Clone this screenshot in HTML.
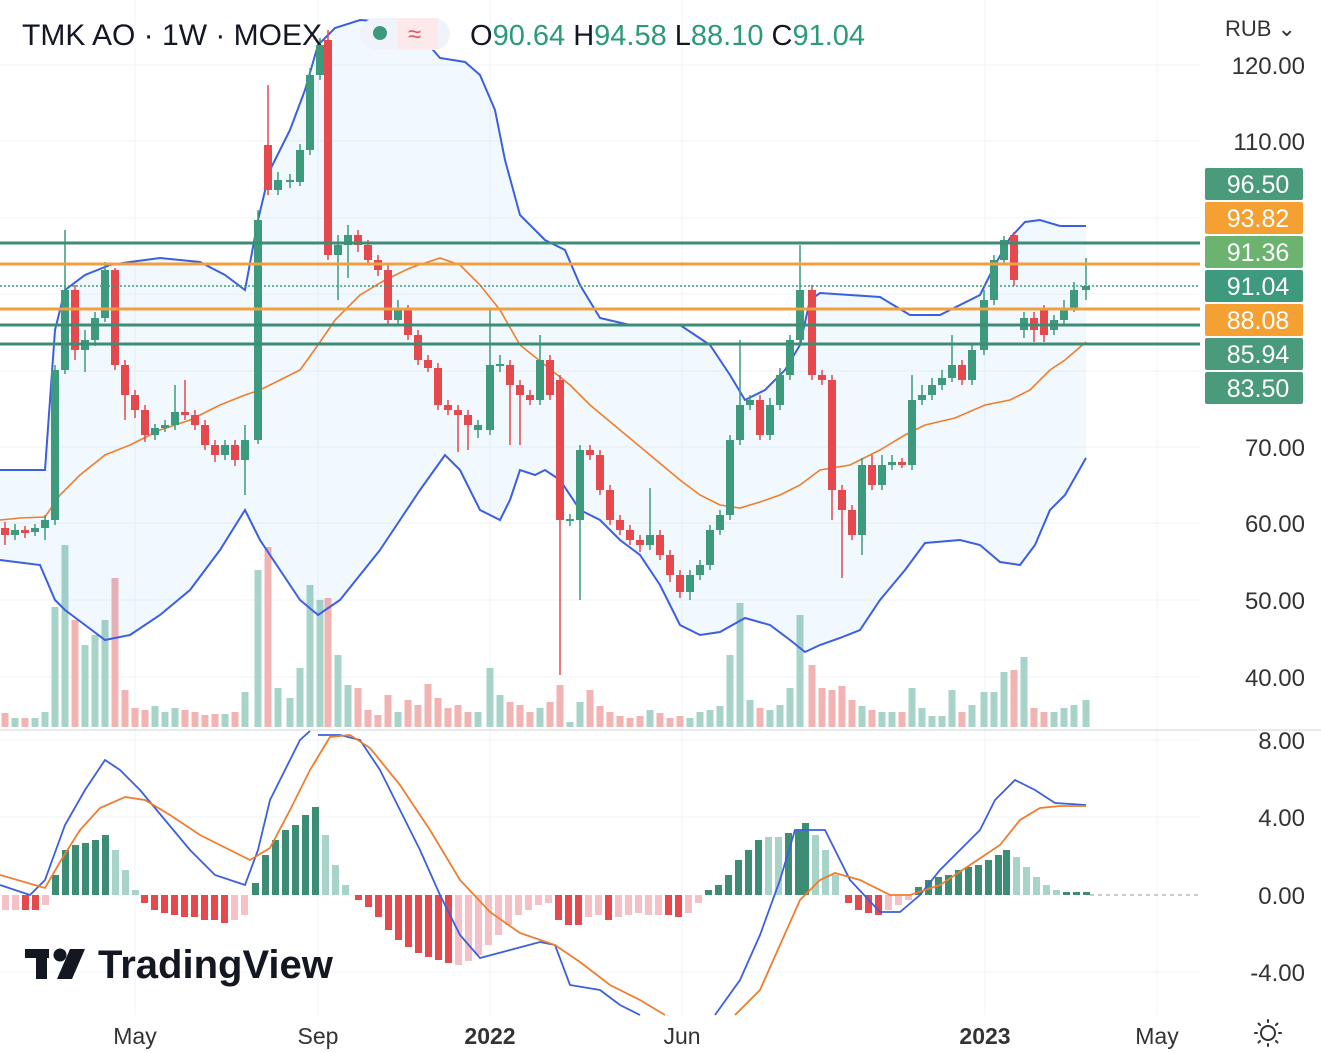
<!DOCTYPE html>
<html><head><meta charset="utf-8">
<style>
html,body{margin:0;padding:0;background:#fff;}
body{width:1321px;height:1053px;overflow:hidden;font-family:"Liberation Sans",sans-serif;}
svg{display:block}
</style></head>
<body>
<svg width="1321" height="1053" xmlns="http://www.w3.org/2000/svg" font-family="Liberation Sans, sans-serif">
<rect width="1321" height="1053" fill="#fff"/>
<g stroke="#f0f3fa" stroke-width="1">
<line x1="135" y1="0" x2="135" y2="1015"/><line x1="318" y1="0" x2="318" y2="1015"/>
<line x1="490" y1="0" x2="490" y2="1015"/><line x1="682" y1="0" x2="682" y2="1015"/>
<line x1="985" y1="0" x2="985" y2="1015"/><line x1="1157" y1="0" x2="1157" y2="1015"/>
<line x1="0" y1="65" x2="1200" y2="65"/><line x1="0" y1="141" x2="1200" y2="141"/>
<line x1="0" y1="218" x2="1200" y2="218"/><line x1="0" y1="294" x2="1200" y2="294"/>
<line x1="0" y1="371" x2="1200" y2="371"/><line x1="0" y1="447" x2="1200" y2="447"/>
<line x1="0" y1="523" x2="1200" y2="523"/><line x1="0" y1="600" x2="1200" y2="600"/>
<line x1="0" y1="677" x2="1200" y2="677"/>
<line x1="0" y1="740" x2="1200" y2="740"/><line x1="0" y1="817" x2="1200" y2="817"/>
<line x1="0" y1="972" x2="1200" y2="972"/>
</g>

<!-- volume -->
<g>
<g fill="#f2b3b3">
<rect x="1.5" y="713" width="7" height="14"/><rect x="21.5" y="718" width="7" height="9"/><rect x="71.5" y="620" width="7" height="107"/><rect x="111.5" y="578" width="7" height="149"/><rect x="121.5" y="690" width="7" height="37"/><rect x="131.5" y="708" width="7" height="19"/><rect x="141.5" y="710" width="7" height="17"/><rect x="181.5" y="710" width="7" height="17"/><rect x="191.5" y="712" width="7" height="15"/><rect x="201.5" y="715" width="7" height="12"/><rect x="211.5" y="714" width="7" height="13"/><rect x="231.5" y="712" width="7" height="15"/><rect x="264.5" y="547" width="7" height="180"/><rect x="324.5" y="598" width="7" height="129"/><rect x="354.5" y="688" width="7" height="39"/><rect x="364.5" y="710" width="7" height="17"/><rect x="374.5" y="715" width="7" height="12"/><rect x="384.5" y="695" width="7" height="32"/><rect x="404.5" y="700" width="7" height="27"/><rect x="414.5" y="705" width="7" height="22"/><rect x="424.5" y="684" width="7" height="43"/><rect x="434.5" y="698" width="7" height="29"/><rect x="444.5" y="708" width="7" height="19"/><rect x="454.5" y="705" width="7" height="22"/><rect x="464.5" y="712" width="7" height="15"/><rect x="506.5" y="702" width="7" height="25"/><rect x="516.5" y="705" width="7" height="22"/><rect x="526.5" y="712" width="7" height="15"/><rect x="546.5" y="702" width="7" height="25"/><rect x="556.5" y="685" width="7" height="42"/><rect x="586.5" y="690" width="7" height="37"/><rect x="596.5" y="706" width="7" height="21"/><rect x="606.5" y="712" width="7" height="15"/><rect x="616.5" y="716" width="7" height="11"/><rect x="626.5" y="718" width="7" height="9"/><rect x="636.5" y="716" width="7" height="11"/><rect x="656.5" y="713" width="7" height="14"/><rect x="666.5" y="718" width="7" height="9"/><rect x="676.5" y="716" width="7" height="11"/><rect x="756.5" y="708" width="7" height="19"/><rect x="808.5" y="665" width="7" height="62"/><rect x="818.5" y="688" width="7" height="39"/><rect x="828.5" y="690" width="7" height="37"/><rect x="838.5" y="686" width="7" height="41"/><rect x="848.5" y="700" width="7" height="27"/><rect x="868.5" y="710" width="7" height="17"/><rect x="898.5" y="712" width="7" height="15"/><rect x="958.5" y="712" width="7" height="15"/><rect x="1010.5" y="670" width="7" height="57"/><rect x="1030.5" y="708" width="7" height="19"/><rect x="1040.5" y="712" width="7" height="15"/>
</g>
<g fill="#a8d3c8">
<rect x="11.5" y="718" width="7" height="9"/><rect x="31.5" y="718" width="7" height="9"/><rect x="41.5" y="712" width="7" height="15"/><rect x="51.5" y="607" width="7" height="120"/><rect x="61.5" y="545" width="7" height="182"/><rect x="81.5" y="645" width="7" height="82"/><rect x="91.5" y="635" width="7" height="92"/><rect x="101.5" y="620" width="7" height="107"/><rect x="151.5" y="706" width="7" height="21"/><rect x="161.5" y="712" width="7" height="15"/><rect x="171.5" y="708" width="7" height="19"/><rect x="221.5" y="714" width="7" height="13"/><rect x="241.5" y="692" width="7" height="35"/><rect x="254.5" y="570" width="7" height="157"/><rect x="274.5" y="688" width="7" height="39"/><rect x="286.5" y="698" width="7" height="29"/><rect x="296.5" y="668" width="7" height="59"/><rect x="306.5" y="585" width="7" height="142"/><rect x="316.5" y="600" width="7" height="127"/><rect x="334.5" y="655" width="7" height="72"/><rect x="344.5" y="685" width="7" height="42"/><rect x="394.5" y="712" width="7" height="15"/><rect x="474.5" y="712" width="7" height="15"/><rect x="486.5" y="668" width="7" height="59"/><rect x="496.5" y="695" width="7" height="32"/><rect x="536.5" y="708" width="7" height="19"/><rect x="566.5" y="722" width="7" height="5"/><rect x="576.5" y="702" width="7" height="25"/><rect x="646.5" y="710" width="7" height="17"/><rect x="686.5" y="718" width="7" height="9"/><rect x="696.5" y="712" width="7" height="15"/><rect x="706.5" y="710" width="7" height="17"/><rect x="716.5" y="706" width="7" height="21"/><rect x="726.5" y="655" width="7" height="72"/><rect x="736.5" y="603" width="7" height="124"/><rect x="746.5" y="700" width="7" height="27"/><rect x="766.5" y="710" width="7" height="17"/><rect x="776.5" y="705" width="7" height="22"/><rect x="786.5" y="688" width="7" height="39"/><rect x="796.5" y="615" width="7" height="112"/><rect x="858.5" y="706" width="7" height="21"/><rect x="878.5" y="712" width="7" height="15"/><rect x="888.5" y="712" width="7" height="15"/><rect x="908.5" y="688" width="7" height="39"/><rect x="918.5" y="708" width="7" height="19"/><rect x="928.5" y="716" width="7" height="11"/><rect x="938.5" y="716" width="7" height="11"/><rect x="948.5" y="690" width="7" height="37"/><rect x="968.5" y="705" width="7" height="22"/><rect x="980.5" y="692" width="7" height="35"/><rect x="990.5" y="692" width="7" height="35"/><rect x="1000.5" y="672" width="7" height="55"/><rect x="1020.5" y="657" width="7" height="70"/><rect x="1050.5" y="712" width="7" height="15"/><rect x="1060.5" y="708" width="7" height="19"/><rect x="1070.5" y="705" width="7" height="22"/><rect x="1082.5" y="700" width="7" height="27"/>
</g>
</g>

<!-- Bollinger -->
<path d="M0,470 L45,470 L55,330 L65,290 L85,275 L110,265 L130,262 L160,258 L200,262 L225,275 L245,290 L258,220 L270,170 L290,130 L305,90 L318,45 L335,28 L360,20 L390,22 L420,35 L440,58 L465,62 L480,75 L495,110 L505,160 L520,215 L545,240 L565,250 L580,285 L600,318 L630,325 L680,325 L710,345 L730,375 L745,400 L765,390 L785,370 L800,345 L810,300 L820,293 L850,295 L880,297 L910,315 L940,315 L960,305 L980,295 L995,265 L1010,238 L1025,222 L1040,220 L1060,226 L1086,226 L1086,458 L1065,495 L1050,510 L1035,545 L1020,565 L1000,562 L980,545 L960,540 L925,543 L905,570 L880,600 L860,630 L840,638 L820,645 L805,652 L790,640 L770,625 L745,618 L720,632 L700,635 L680,625 L660,585 L640,555 L620,540 L600,520 L580,510 L560,480 L545,470 L535,475 L520,470 L510,500 L500,520 L480,510 L460,470 L445,455 L420,490 L400,520 L380,550 L360,575 L340,600 L318,615 L300,600 L280,570 L260,540 L245,510 L220,550 L190,590 L160,615 L130,635 L105,640 L85,625 L65,610 L55,600 L40,565 L0,560 Z" fill="rgba(33,150,243,0.06)"/>
<polyline fill="none" stroke="#3b5fe0" stroke-width="2" points="0,470 45,470 55,330 65,290 85,275 110,265 130,262 160,258 200,262 225,275 245,290 258,220 270,170 290,130 305,90 318,45 335,28 360,20 390,22 420,35 440,58 465,62 480,75 495,110 505,160 520,215 545,240 565,250 580,285 600,318 630,325 680,325 710,345 730,375 745,400 765,390 785,370 800,345 810,300 820,293 850,295 880,297 910,315 940,315 960,305 980,295 995,265 1010,238 1025,222 1040,220 1060,226 1086,226"/>
<polyline fill="none" stroke="#3b5fe0" stroke-width="2" points="0,560 40,565 55,600 65,610 85,625 105,640 130,635 160,615 190,590 220,550 245,510 260,540 280,570 300,600 318,615 340,600 360,575 380,550 400,520 420,490 445,455 460,470 480,510 500,520 510,500 520,470 535,475 545,470 560,480 580,510 600,520 620,540 640,555 660,585 680,625 700,635 720,632 745,618 770,625 790,640 805,652 820,645 840,638 860,630 880,600 905,570 925,543 960,540 980,545 1000,562 1020,565 1035,545 1050,510 1065,495 1086,458"/>
<polyline fill="none" stroke="#ef7d2d" stroke-width="1.6" points="0,520 20,518 45,517 60,495 80,475 105,455 130,445 160,430 190,420 220,405 245,395 260,390 280,380 300,370 318,345 335,320 360,295 385,280 410,268 440,258 460,265 480,285 500,310 520,345 545,365 570,385 590,405 620,430 650,455 680,480 700,495 720,505 740,508 760,502 780,495 800,485 820,470 850,465 880,450 905,435 925,425 955,418 985,405 1010,400 1030,390 1050,370 1065,360 1086,342"/>

<!-- candles green -->
<g stroke="#3d9a7c" stroke-width="1.5">
<line x1="15" y1="524" x2="15" y2="540"/><line x1="35" y1="524" x2="35" y2="536"/><line x1="45" y1="515" x2="45" y2="540"/><line x1="55" y1="365" x2="55" y2="525"/><line x1="65" y1="230" x2="65" y2="374"/><line x1="85" y1="330" x2="85" y2="372"/><line x1="95" y1="312" x2="95" y2="346"/><line x1="105" y1="262" x2="105" y2="322"/><line x1="155" y1="424" x2="155" y2="440"/><line x1="165" y1="420" x2="165" y2="432"/><line x1="175" y1="385" x2="175" y2="430"/><line x1="225" y1="440" x2="225" y2="460"/><line x1="245" y1="425" x2="245" y2="495"/><line x1="258" y1="210" x2="258" y2="444"/><line x1="278" y1="172" x2="278" y2="195"/><line x1="290" y1="174" x2="290" y2="188"/><line x1="300" y1="144" x2="300" y2="186"/><line x1="310" y1="68" x2="310" y2="155"/><line x1="320" y1="38" x2="320" y2="80"/><line x1="338" y1="235" x2="338" y2="300"/><line x1="348" y1="225" x2="348" y2="278"/><line x1="398" y1="300" x2="398" y2="326"/><line x1="478" y1="420" x2="478" y2="438"/><line x1="490" y1="310" x2="490" y2="435"/><line x1="500" y1="355" x2="500" y2="372"/><line x1="540" y1="335" x2="540" y2="405"/><line x1="570" y1="514" x2="570" y2="526"/><line x1="580" y1="445" x2="580" y2="600"/><line x1="650" y1="488" x2="650" y2="550"/><line x1="690" y1="570" x2="690" y2="600"/><line x1="700" y1="560" x2="700" y2="580"/><line x1="710" y1="525" x2="710" y2="570"/><line x1="720" y1="510" x2="720" y2="535"/><line x1="730" y1="435" x2="730" y2="520"/><line x1="740" y1="340" x2="740" y2="445"/><line x1="750" y1="395" x2="750" y2="410"/><line x1="770" y1="398" x2="770" y2="440"/><line x1="780" y1="368" x2="780" y2="410"/><line x1="790" y1="335" x2="790" y2="380"/><line x1="800" y1="245" x2="800" y2="345"/><line x1="862" y1="458" x2="862" y2="555"/><line x1="882" y1="455" x2="882" y2="490"/><line x1="892" y1="455" x2="892" y2="470"/><line x1="912" y1="375" x2="912" y2="470"/><line x1="922" y1="385" x2="922" y2="405"/><line x1="932" y1="378" x2="932" y2="400"/><line x1="942" y1="370" x2="942" y2="390"/><line x1="952" y1="335" x2="952" y2="382"/><line x1="972" y1="345" x2="972" y2="385"/><line x1="984" y1="290" x2="984" y2="355"/><line x1="994" y1="255" x2="994" y2="305"/><line x1="1004" y1="236" x2="1004" y2="264"/><line x1="1024" y1="312" x2="1024" y2="338"/><line x1="1054" y1="315" x2="1054" y2="335"/><line x1="1064" y1="300" x2="1064" y2="325"/><line x1="1074" y1="282" x2="1074" y2="312"/><line x1="1086" y1="258" x2="1086" y2="300"/>
</g>
<g fill="#3d9a7c">
<rect x="11" y="530" width="8" height="5"/><rect x="31" y="528" width="8" height="4"/><rect x="41" y="520" width="8" height="8"/><rect x="51" y="370" width="8" height="150"/><rect x="61" y="290" width="8" height="80"/><rect x="81" y="340" width="8" height="10"/><rect x="91" y="318" width="8" height="22"/><rect x="101" y="270" width="8" height="48"/><rect x="151" y="428" width="8" height="7"/><rect x="161" y="425" width="8" height="3"/><rect x="171" y="412" width="8" height="13"/><rect x="221" y="445" width="8" height="10"/><rect x="241" y="440" width="8" height="20"/><rect x="254" y="220" width="8" height="220"/><rect x="274" y="180" width="8" height="10"/><rect x="286" y="180" width="8" height="2"/><rect x="296" y="150" width="8" height="32"/><rect x="306" y="75" width="8" height="75"/><rect x="316" y="45" width="8" height="30"/><rect x="334" y="245" width="8" height="10"/><rect x="344" y="235" width="8" height="10"/><rect x="394" y="310" width="8" height="10"/><rect x="474" y="425" width="8" height="5"/><rect x="486" y="365" width="8" height="65"/><rect x="496" y="364" width="8" height="2"/><rect x="536" y="360" width="8" height="40"/><rect x="566" y="519" width="8" height="2"/><rect x="576" y="450" width="8" height="70"/><rect x="646" y="535" width="8" height="10"/><rect x="686" y="575" width="8" height="17"/><rect x="696" y="565" width="8" height="10"/><rect x="706" y="530" width="8" height="35"/><rect x="716" y="515" width="8" height="15"/><rect x="726" y="440" width="8" height="75"/><rect x="736" y="405" width="8" height="35"/><rect x="746" y="400" width="8" height="5"/><rect x="766" y="405" width="8" height="30"/><rect x="776" y="375" width="8" height="30"/><rect x="786" y="340" width="8" height="35"/><rect x="796" y="290" width="8" height="50"/><rect x="858" y="465" width="8" height="70"/><rect x="878" y="465" width="8" height="20"/><rect x="888" y="462" width="8" height="3"/><rect x="908" y="400" width="8" height="65"/><rect x="918" y="395" width="8" height="5"/><rect x="928" y="385" width="8" height="10"/><rect x="938" y="378" width="8" height="7"/><rect x="948" y="365" width="8" height="13"/><rect x="968" y="350" width="8" height="30"/><rect x="980" y="300" width="8" height="50"/><rect x="990" y="260" width="8" height="40"/><rect x="1000" y="240" width="8" height="20"/><rect x="1020" y="318" width="8" height="12"/><rect x="1050" y="320" width="8" height="10"/><rect x="1060" y="308" width="8" height="12"/><rect x="1070" y="290" width="8" height="18"/><rect x="1082" y="286" width="8" height="4"/>
</g>
<!-- candles red -->
<g stroke="#e5484d" stroke-width="1.5">
<line x1="5" y1="522" x2="5" y2="545"/><line x1="25" y1="526" x2="25" y2="538"/><line x1="75" y1="285" x2="75" y2="360"/><line x1="115" y1="268" x2="115" y2="370"/><line x1="125" y1="360" x2="125" y2="420"/><line x1="135" y1="390" x2="135" y2="418"/><line x1="145" y1="405" x2="145" y2="442"/><line x1="185" y1="380" x2="185" y2="420"/><line x1="195" y1="410" x2="195" y2="430"/><line x1="205" y1="420" x2="205" y2="450"/><line x1="215" y1="440" x2="215" y2="462"/><line x1="235" y1="440" x2="235" y2="466"/><line x1="268" y1="85" x2="268" y2="195"/><line x1="328" y1="30" x2="328" y2="260"/><line x1="358" y1="230" x2="358" y2="252"/><line x1="368" y1="240" x2="368" y2="265"/><line x1="378" y1="255" x2="378" y2="276"/><line x1="388" y1="265" x2="388" y2="325"/><line x1="408" y1="305" x2="408" y2="340"/><line x1="418" y1="330" x2="418" y2="365"/><line x1="428" y1="355" x2="428" y2="372"/><line x1="438" y1="363" x2="438" y2="410"/><line x1="448" y1="400" x2="448" y2="415"/><line x1="458" y1="405" x2="458" y2="452"/><line x1="468" y1="410" x2="468" y2="450"/><line x1="510" y1="360" x2="510" y2="445"/><line x1="520" y1="380" x2="520" y2="445"/><line x1="530" y1="390" x2="530" y2="405"/><line x1="550" y1="355" x2="550" y2="400"/><line x1="560" y1="375" x2="560" y2="675"/><line x1="590" y1="445" x2="590" y2="460"/><line x1="600" y1="450" x2="600" y2="495"/><line x1="610" y1="485" x2="610" y2="525"/><line x1="620" y1="515" x2="620" y2="535"/><line x1="630" y1="525" x2="630" y2="545"/><line x1="640" y1="535" x2="640" y2="552"/><line x1="660" y1="530" x2="660" y2="560"/><line x1="670" y1="550" x2="670" y2="582"/><line x1="680" y1="570" x2="680" y2="598"/><line x1="760" y1="395" x2="760" y2="440"/><line x1="812" y1="285" x2="812" y2="380"/><line x1="822" y1="370" x2="822" y2="385"/><line x1="832" y1="375" x2="832" y2="520"/><line x1="842" y1="485" x2="842" y2="578"/><line x1="852" y1="505" x2="852" y2="540"/><line x1="872" y1="455" x2="872" y2="490"/><line x1="902" y1="458" x2="902" y2="468"/><line x1="962" y1="360" x2="962" y2="385"/><line x1="1014" y1="232" x2="1014" y2="286"/><line x1="1034" y1="312" x2="1034" y2="342"/><line x1="1044" y1="305" x2="1044" y2="342"/>
</g>
<g fill="#e5484d">
<rect x="1" y="528" width="8" height="7"/><rect x="21" y="530" width="8" height="3"/><rect x="71" y="290" width="8" height="60"/><rect x="111" y="270" width="8" height="95"/><rect x="121" y="365" width="8" height="30"/><rect x="131" y="395" width="8" height="15"/><rect x="141" y="410" width="8" height="25"/><rect x="181" y="412" width="8" height="3"/><rect x="191" y="415" width="8" height="10"/><rect x="201" y="425" width="8" height="20"/><rect x="211" y="445" width="8" height="10"/><rect x="231" y="445" width="8" height="15"/><rect x="264" y="145" width="8" height="45"/><rect x="324" y="40" width="8" height="215"/><rect x="354" y="235" width="8" height="10"/><rect x="364" y="245" width="8" height="15"/><rect x="374" y="260" width="8" height="10"/><rect x="384" y="270" width="8" height="50"/><rect x="404" y="310" width="8" height="25"/><rect x="414" y="335" width="8" height="25"/><rect x="424" y="360" width="8" height="8"/><rect x="434" y="368" width="8" height="37"/><rect x="444" y="405" width="8" height="5"/><rect x="454" y="410" width="8" height="5"/><rect x="464" y="415" width="8" height="10"/><rect x="506" y="365" width="8" height="20"/><rect x="516" y="385" width="8" height="10"/><rect x="526" y="395" width="8" height="5"/><rect x="546" y="360" width="8" height="35"/><rect x="556" y="380" width="8" height="140"/><rect x="586" y="450" width="8" height="5"/><rect x="596" y="455" width="8" height="35"/><rect x="606" y="490" width="8" height="30"/><rect x="616" y="520" width="8" height="10"/><rect x="626" y="530" width="8" height="10"/><rect x="636" y="540" width="8" height="5"/><rect x="656" y="535" width="8" height="20"/><rect x="666" y="555" width="8" height="20"/><rect x="676" y="575" width="8" height="17"/><rect x="756" y="400" width="8" height="35"/><rect x="808" y="290" width="8" height="85"/><rect x="818" y="375" width="8" height="5"/><rect x="828" y="380" width="8" height="110"/><rect x="838" y="490" width="8" height="20"/><rect x="848" y="510" width="8" height="25"/><rect x="868" y="465" width="8" height="20"/><rect x="898" y="462" width="8" height="3"/><rect x="958" y="365" width="8" height="15"/><rect x="1010" y="235" width="8" height="45"/><rect x="1030" y="318" width="8" height="12"/><rect x="1040" y="310" width="8" height="25"/>
</g>

<!-- horizontal levels -->
<g stroke-width="3">
<line x1="0" y1="243" x2="1200" y2="243" stroke="#3d8c74"/>
<line x1="0" y1="325" x2="1200" y2="325" stroke="#3d8c74"/>
<line x1="0" y1="344" x2="1200" y2="344" stroke="#3d8c74"/>
<line x1="0" y1="264" x2="1200" y2="264" stroke="#f0a040"/>
<line x1="0" y1="309" x2="1200" y2="309" stroke="#f0a040"/>
</g>
<line x1="0" y1="286" x2="1200" y2="286" stroke="#3d9a7c" stroke-width="1.5" stroke-dasharray="2,2"/>

<line x1="0" y1="730" x2="1321" y2="730" stroke="#d1d4dc" stroke-width="1"/>

<!-- MACD histogram -->
<g fill="#e5484d">
<rect x="2" y="895" width="7" height="15" fill="#f6c1c6"/><rect x="12" y="895" width="7" height="15" fill="#f6c1c6"/><rect x="22" y="895" width="7" height="15"/><rect x="32" y="895" width="7" height="15"/><rect x="42" y="895" width="7" height="10" fill="#f6c1c6"/>
<rect x="141" y="895" width="7" height="8"/><rect x="151" y="895" width="7" height="15"/><rect x="161" y="895" width="7" height="18"/><rect x="171" y="895" width="7" height="20"/><rect x="181" y="895" width="7" height="22"/><rect x="191" y="895" width="7" height="22"/><rect x="201" y="895" width="7" height="25"/><rect x="211" y="895" width="7" height="25"/><rect x="221" y="895" width="7" height="28"/><rect x="231" y="895" width="7" height="25" fill="#f6c1c6"/><rect x="241" y="895" width="7" height="20" fill="#f6c1c6"/>
<rect x="355" y="895" width="7" height="5"/><rect x="365" y="895" width="7" height="12"/><rect x="375" y="895" width="7" height="22"/><rect x="385" y="895" width="7" height="35"/><rect x="395" y="895" width="7" height="45"/><rect x="405" y="895" width="7" height="52"/><rect x="415" y="895" width="7" height="58"/><rect x="425" y="895" width="7" height="62"/><rect x="435" y="895" width="7" height="65"/><rect x="445" y="895" width="7" height="68"/>
<g fill="#f6c1c6"><rect x="455" y="895" width="7" height="70"/><rect x="465" y="895" width="7" height="66"/><rect x="475" y="895" width="7" height="60"/><rect x="485" y="895" width="7" height="50"/><rect x="495" y="895" width="7" height="40"/><rect x="505" y="895" width="7" height="30"/><rect x="515" y="895" width="7" height="20"/><rect x="525" y="895" width="7" height="15"/><rect x="535" y="895" width="7" height="10"/><rect x="545" y="895" width="7" height="8"/></g>
<rect x="555" y="895" width="7" height="25"/><rect x="565" y="895" width="7" height="30"/><rect x="575" y="895" width="7" height="30"/><rect x="585" y="895" width="7" height="22" fill="#f6c1c6"/><rect x="595" y="895" width="7" height="20" fill="#f6c1c6"/><rect x="605" y="895" width="7" height="25"/><rect x="615" y="895" width="7" height="22" fill="#f6c1c6"/><rect x="625" y="895" width="7" height="20" fill="#f6c1c6"/><rect x="635" y="895" width="7" height="18" fill="#f6c1c6"/><rect x="645" y="895" width="7" height="20" fill="#f6c1c6"/><rect x="655" y="895" width="7" height="20" fill="#f6c1c6"/><rect x="665" y="895" width="7" height="20"/><rect x="675" y="895" width="7" height="22"/><rect x="685" y="895" width="7" height="18" fill="#f6c1c6"/><rect x="695" y="895" width="7" height="8" fill="#f6c1c6"/>
<rect x="845" y="895" width="7" height="8"/><rect x="855" y="895" width="7" height="15"/><rect x="865" y="895" width="7" height="18"/><rect x="875" y="895" width="7" height="20"/><rect x="885" y="895" width="7" height="15" fill="#f6c1c6"/><rect x="895" y="895" width="7" height="10" fill="#f6c1c6"/><rect x="905" y="895" width="7" height="5" fill="#f6c1c6"/>
</g>
<g fill="#3d8c74">
<rect x="52" y="875" width="7" height="20"/><rect x="62" y="850" width="7" height="45"/><rect x="72" y="845" width="7" height="50"/><rect x="82" y="843" width="7" height="52"/><rect x="92" y="840" width="7" height="55"/><rect x="102" y="835" width="7" height="60"/>
<g fill="#a8d3c8"><rect x="112" y="850" width="7" height="45"/><rect x="122" y="870" width="7" height="25"/><rect x="132" y="890" width="7" height="5"/></g>
<rect x="252" y="883" width="7" height="12"/><rect x="262" y="855" width="7" height="40"/><rect x="272" y="840" width="7" height="55"/><rect x="282" y="830" width="7" height="65"/><rect x="292" y="825" width="7" height="70"/><rect x="302" y="815" width="7" height="80"/><rect x="312" y="807" width="7" height="88"/>
<g fill="#a8d3c8"><rect x="322" y="835" width="7" height="60"/><rect x="332" y="865" width="7" height="30"/><rect x="342" y="885" width="7" height="10"/></g>
<rect x="705" y="890" width="7" height="5"/><rect x="715" y="885" width="7" height="10"/><rect x="725" y="875" width="7" height="20"/><rect x="735" y="860" width="7" height="35"/><rect x="745" y="850" width="7" height="45"/><rect x="755" y="840" width="7" height="55"/>
<g fill="#a8d3c8"><rect x="765" y="837" width="7" height="58"/><rect x="775" y="837" width="7" height="58"/></g>
<rect x="785" y="833" width="7" height="62"/><rect x="795" y="830" width="7" height="65"/><rect x="802" y="823" width="7" height="72"/>
<g fill="#a8d3c8"><rect x="812" y="835" width="7" height="60"/><rect x="822" y="850" width="7" height="45"/><rect x="832" y="875" width="7" height="20"/></g>
<rect x="915" y="887" width="7" height="8"/><rect x="925" y="880" width="7" height="15"/><rect x="935" y="877" width="7" height="18"/><rect x="945" y="875" width="7" height="20"/><rect x="955" y="870" width="7" height="25"/><rect x="965" y="867" width="7" height="28"/><rect x="975" y="865" width="7" height="30"/><rect x="985" y="860" width="7" height="35"/><rect x="995" y="855" width="7" height="40"/><rect x="1003" y="850" width="7" height="45"/>
<g fill="#a8d3c8"><rect x="1013" y="857" width="7" height="38"/><rect x="1023" y="867" width="7" height="28"/><rect x="1033" y="877" width="7" height="18"/><rect x="1043" y="885" width="7" height="10"/><rect x="1053" y="890" width="7" height="5"/></g>
<rect x="1063" y="892" width="7" height="3"/><rect x="1073" y="892" width="7" height="3"/><rect x="1083" y="892" width="7" height="3"/>
</g>
<polyline fill="none" stroke="#3b5fe0" stroke-width="1.8" points="0,885 30,895 45,880 65,825 85,790 105,760 120,770 140,790 165,820 190,850 215,875 245,885 258,850 270,800 290,760 300,740 310,731"/>
<polyline fill="none" stroke="#3b5fe0" stroke-width="1.8" points="318,735 340,735 360,740 380,770 400,810 420,850 440,895 460,935 480,958 510,950 540,942 555,945 570,985 600,990 620,1005 640,1015"/>
<polyline fill="none" stroke="#3b5fe0" stroke-width="1.8" points="715,1015 740,980 760,935 780,880 795,830 825,830 850,880 880,912 900,912 920,895 940,870 960,850 980,830 995,800 1015,780 1035,790 1055,803 1086,805"/>
<polyline fill="none" stroke="#ef7d2d" stroke-width="1.8" points="0,875 45,888 60,862 80,830 100,808 125,797 145,800 170,815 200,835 230,850 250,860 270,848 290,810 310,770 330,737 350,735 370,748 400,785 430,830 460,880 490,912 520,933 555,945 580,962 610,985 640,1000 665,1015"/>
<polyline fill="none" stroke="#ef7d2d" stroke-width="1.8" points="735,1015 760,990 780,945 800,900 820,880 835,873 860,880 890,895 910,895 940,885 970,865 1000,845 1020,820 1040,808 1060,806 1086,806"/>
<line x1="1090" y1="895" x2="1200" y2="895" stroke="#999" stroke-dasharray="4,4"/>

<g font-size="24" fill="#333" text-anchor="end">
<text x="1305" y="74">120.00</text><text x="1305" y="150">110.00</text>
<text x="1305" y="456">70.00</text><text x="1305" y="532">60.00</text>
<text x="1305" y="609">50.00</text><text x="1305" y="686">40.00</text>
<text x="1305" y="749">8.00</text><text x="1305" y="826">4.00</text>
<text x="1305" y="904">0.00</text><text x="1305" y="981">-4.00</text>
</g>
<g font-size="25" fill="#fff" text-anchor="middle">
<rect x="1205" y="168" width="98" height="32" rx="2" fill="#4a9a7c"/><text x="1258" y="193">96.50</text>
<rect x="1205" y="202" width="98" height="32" rx="2" fill="#f5a033"/><text x="1258" y="227">93.82</text>
<rect x="1205" y="236" width="98" height="32" rx="2" fill="#6cb36f"/><text x="1258" y="261">91.36</text>
<rect x="1205" y="270" width="98" height="32" rx="2" fill="#3d9a7c"/><text x="1258" y="295">91.04</text>
<rect x="1205" y="304" width="98" height="32" rx="2" fill="#f5a033"/><text x="1258" y="329">88.08</text>
<rect x="1205" y="338" width="98" height="32" rx="2" fill="#4a9a7c"/><text x="1258" y="363">85.94</text>
<rect x="1205" y="372" width="98" height="32" rx="2" fill="#4a9a7c"/><text x="1258" y="397">83.50</text>
</g>
<g font-size="23" fill="#333" text-anchor="middle">
<text x="135" y="1044">May</text><text x="318" y="1044">Sep</text>
<text x="490" y="1044" font-weight="bold">2022</text><text x="682" y="1044">Jun</text>
<text x="985" y="1044" font-weight="bold">2023</text><text x="1157" y="1044">May</text>
</g>
<g transform="translate(1268,1033)" stroke="#333" stroke-width="2" fill="none">
<circle r="7"/><g stroke-linecap="round"><line x1="0" y1="-11" x2="0" y2="-13"/><line x1="0" y1="11" x2="0" y2="13"/><line x1="-11" y1="0" x2="-13" y2="0"/><line x1="11" y1="0" x2="13" y2="0"/><line x1="8" y1="8" x2="9.5" y2="9.5"/><line x1="-8" y1="-8" x2="-9.5" y2="-9.5"/><line x1="8" y1="-8" x2="9.5" y2="-9.5"/><line x1="-8" y1="8" x2="-9.5" y2="9.5"/></g></g>
<text x="1225" y="36" font-size="22" fill="#333">RUB ⌄</text>
<text x="22" y="45" font-size="30" fill="#131722">TMK AO · 1W · MOEX</text>
<rect x="360" y="18" width="90" height="32" rx="16" fill="#f0f3fa"/>
<rect x="398" y="18" width="40" height="32" fill="#fde8ea"/>
<circle cx="380" cy="33" r="7" fill="#3d9a7c"/>
<text x="408" y="42" font-size="24" fill="#e5566a">≈</text>
<text x="470" y="45" font-size="29" fill="#131722">O<tspan fill="#2a9a7a">90.64</tspan> H<tspan fill="#2a9a7a">94.58</tspan> L<tspan fill="#2a9a7a">88.10</tspan> C<tspan fill="#2a9a7a">91.04</tspan></text>
<g fill="#131722"><rect x="25" y="949" width="24" height="9"/><rect x="36" y="949" width="11" height="30"/><circle cx="60" cy="955" r="6.5"/><polygon points="70,949 85,949 72,979 57,979"/></g>
<text x="98" y="978" font-size="40" font-weight="bold" fill="#131722">TradingView</text>
</svg>
</body></html>
